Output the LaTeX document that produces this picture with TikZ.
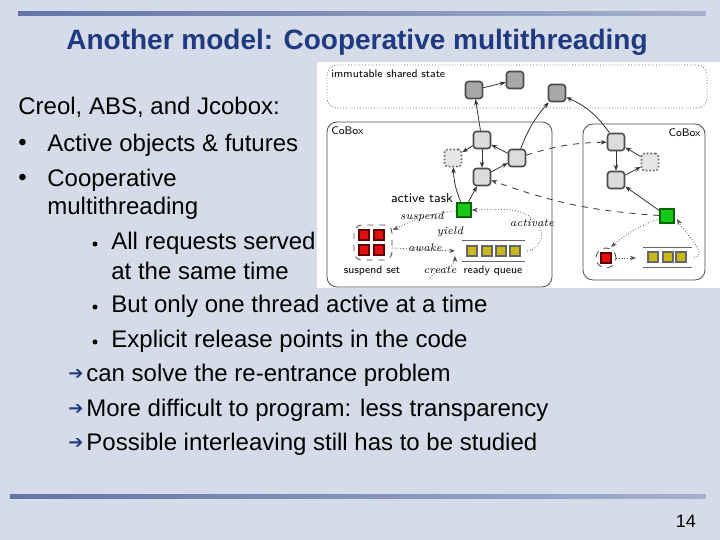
\documentclass[tikz,border=0pt]{standalone}
\usepackage{fontspec}
\setmainfont{Liberation Sans}
\setsansfont{Latin Modern Sans}
\newfontfamily\djv{DejaVu Sans}
\newfontfamily\lmr{Latin Modern Roman}
\usetikzlibrary{arrows.meta}
\definecolor{bg}{HTML}{D6DBEA}
\definecolor{ttl}{HTML}{1F3A80}
\definecolor{gbox}{HTML}{DCDCDC}
\definecolor{dbox}{HTML}{A8A8A8}
\definecolor{grn}{HTML}{18C818}
\definecolor{rd}{HTML}{E01010}
\definecolor{yl}{HTML}{C8B818}
\begin{document}
\begin{tikzpicture}[x=0.5pt,y=-0.5pt,
 body/.style={anchor=west,inner sep=0,font=\fontsize{12}{14}\selectfont},
 lnode/.style={draw=black!70,fill=gbox,rounded corners=1.5pt,minimum size=8.5pt,inner sep=0,thick},
 dnode/.style={draw=black!70,fill=dbox,rounded corners=1.5pt,minimum size=8.5pt,inner sep=0,thick},
 dotnode/.style={draw=black!60,densely dotted,fill=gbox!70,rounded corners=1.5pt,minimum size=8.5pt,inner sep=0,thick},
 gnode/.style={draw=green!40!black,fill=grn,minimum size=7pt,inner sep=0,thick},
 rnode/.style={draw=red!40!black,fill=rd,minimum size=5pt,inner sep=0,thick},
 ynode/.style={draw=black!60,fill=yl,minimum size=5pt,inner sep=0,thick},
 sm/.style={font=\sffamily\fontsize{5.5}{6}\selectfont,inner sep=0},
 it/.style={font=\lmr\fontsize{5.5}{6}\selectfont\itshape,inner sep=0},
 ar/.style={-{Stealth[length=3pt]},black!80},
 dar/.style={ar,dashed},
 tar/.style={-{Stealth[length=3pt]},densely dotted,black!70}]
\fill[bg] (0,0) rectangle (720,540);
\useasboundingbox (0,0) rectangle (720,540);
\shade[left color=ttl!70,right color=ttl!40] (18,12) rectangle (706,16);
\shade[left color=ttl!70,right color=ttl!40] (10,495) rectangle (706,499);
\node[font=\bfseries\fontsize{14}{16}\selectfont,text=ttl] (title) at (357,42) {Another model: Cooperative multithreading};
\node[font=\fontsize{9}{10}\selectfont] (pg) at (686,521) {14};
% text
\node[body] (t1) at (18,107) {Creol, ABS, and Jcobox:};
\node[body] (b1) at (18,145) {\textbullet};
\node[body] (t2) at (47,145) {Active objects \& futures};
\node[body] (b2) at (18,180) {\textbullet};
\node[body] (t3) at (47,180) {Cooperative};
\node[body] (t4) at (47,208) {multithreading};
\foreach \y in {243,306,341}{\fill (95,\y+1) circle (2.5);}
\node[body] (t5) at (111,243) {All requests served};
\node[body] (t6) at (111,271) {at the same time};
\node[body] (t7) at (111,306) {But only one thread active at a time};
\node[body] (t8) at (111,341) {Explicit release points in the code};
\foreach \y in {375,410,444}{\node[body,font=\djv\fontsize{9}{10}\selectfont,text=ttl] at (68,\y) {➔};}
\node[body] (t9) at (86,375) {can solve the re-entrance problem};
\node[body] (t10) at (86,410) {More difficult to program: less transparency};
\node[body] (t11) at (86,444) {Possible interleaving still has to be studied};
% inset
\fill[white] (317,62) rectangle (720,288);
\draw[densely dotted,black!60,rounded corners=5pt] (327,65) rectangle (707,108);
\node[sm,anchor=west] (iss) at (331,74) {immutable shared state};
\draw[black!70,rounded corners=5pt] (327,122) rectangle (552,287);
\draw[black!70,rounded corners=5pt] (583,124) rectangle (705,280);
\node[sm,anchor=west] (cb1) at (331,131) {CoBox};
\node[sm,anchor=east] (cb2) at (701,133) {CoBox};
\node[dnode] (d1) at (474,90) {};
\node[dnode] (d2) at (515,80) {};
\node[dnode] (d3) at (557,93) {};
\node[lnode] (A) at (482,140) {};
\node[dotnode] (D) at (453,158) {};
\node[lnode] (B) at (482,177) {};
\node[lnode] (C) at (517,158) {};
\node[gnode] (g1) at (464,210) {};
\node[lnode] (E) at (616,142) {};
\node[dotnode] (F) at (650,162) {};
\node[lnode] (G) at (616,180) {};
\node[gnode] (g2) at (667,216) {};
\draw[dashed,black!70,rounded corners=4pt] (354,225) rectangle (392,260);
\foreach \x/\y in {364/235,379/235,364/250,379/250}{\node[rnode] at (\x,\y) {};}
\draw[black!60] (462,240) -- (525,240) (462,261) -- (525,261);
\foreach \x in {472,487,501,515}{\node[ynode] at (\x,251) {};}
\coordinate (rqe) at (527,251);
\draw[dashed,black!70] (606,258) circle (5pt);
\node[rnode] (r2) at (606,258) {};
\draw[black!60] (643,247) -- (692,247) (643,267) -- (692,267);
\foreach \x in {653,668,681}{\node[ynode] at (\x,257) {};}
\coordinate (rq2e) at (694,257);
\node[sm,font=\sffamily\fontsize{6.5}{7}\selectfont] (at) at (422,198) {active task};
\node[sm] (sst) at (372,271) {suspend set};
\node[sm] (rqt) at (493,271) {ready queue};
\node[it] (su) at (422,217) {suspend};
\node[it] (yi) at (450,232) {yield};
\node[it] (aw) at (425,248) {awake};
\node[it] (cr) at (440,270) {create};
\node[it] (ac) at (532,223) {activate};
% edges
\draw[ar] (d1) -- (d2);
\draw[ar] (A) -- (d1);
\draw[ar] (A) -- (D);
\draw[ar] (A) -- (B);
\draw[ar] (C) -- (A);
\draw[ar] (B) -- (C);
\draw[ar] (C) to[bend left=10] (d3);
\draw[dar] (C) to[bend left=8] (E);
\draw[ar] (g1) to[bend left=10] (D);
\draw[ar] (g1) -- (B);
\draw[ar] (E) to[bend right=15] (d3);
\draw[ar] (E) -- (G);
\draw[ar] (F) -- (E);
\draw[ar] (G) -- (F);
\draw[ar] (g2) -- (G);
\draw[dar] (g2) to[bend left=8] (B);
\draw[tar] (g1) to[bend right=10] (393,230);
\draw[tar] (392,248) -- (455,251);
\draw[tar] (rqe) to[out=0,in=-60] (540,228) to[out=120,in=0] (g1);
\draw[tar] (430,278) to[out=60,in=-90] (455,256);
\draw[tar] (g2) to[bend right=10] (611,247);
\draw[tar] (616,258) -- (636,258);
\draw[tar] (rq2e) to[out=0,in=-60] (677,219);
\end{tikzpicture}
\end{document}
